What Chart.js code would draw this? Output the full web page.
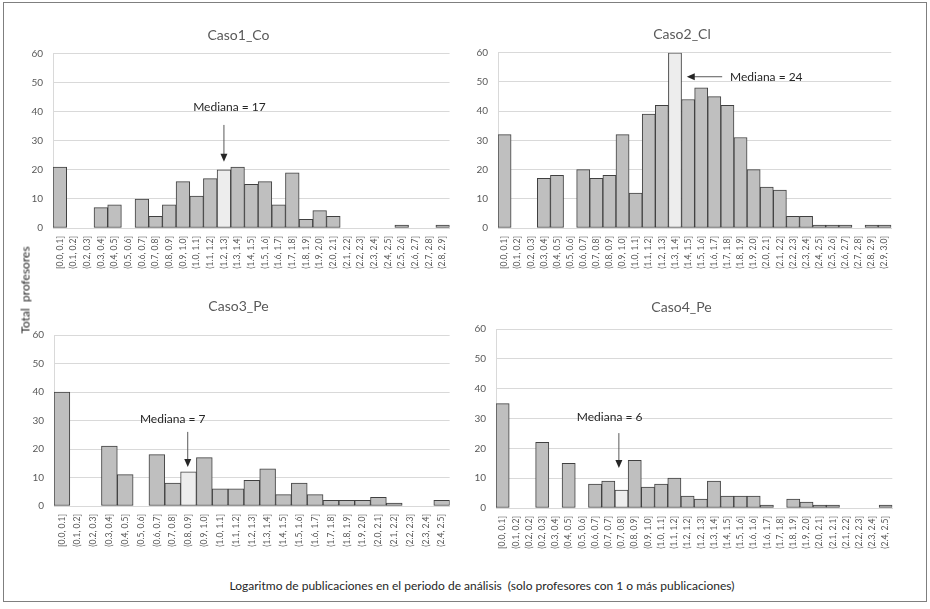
<!DOCTYPE html>
<html lang="es">
<head>
    <meta charset="UTF-8">
    <title>Logaritmo de publicaciones por caso</title>
    <script src="https://cdn.jsdelivr.net/npm/chart.js@4.4.1/dist/chart.umd.min.js"></script>
    <style>
        body {
            margin: 0;
            width: 930px;
            height: 609px;
            background: #fff;
            font-family: Lato, 'Open Sans', sans-serif;
            position: relative;
            overflow: hidden;
        }

        .frame {
            position: absolute;
            left: 3px;
            top: 2px;
            width: 924px;
            height: 600px;
            border: 1px solid #7f7f7f;
            box-sizing: border-box;
        }

        .panel {
            position: absolute;
        }

        .y-title {
            position: absolute;
            left: 25px;
            top: 290px;
            transform: translate(-50%, -50%) rotate(-90deg);
            font-size: 12px;
            color: #262626;
            white-space: pre;
        }

        .x-title {
            position: absolute;
            left: 482px;
            top: 585px;
            transform: translate(-50%, -50%);
            font-size: 12px;
            color: #262626;
            white-space: pre;
        }
    </style>
</head>
<body>
    <div class="frame"></div>
    <div class="panel" style="left:20px; top:20px; width:441px; height:260px;"><canvas id="c1"></canvas></div>
    <div class="panel" style="left:465px; top:20px; width:438px; height:260px;"><canvas id="c2"></canvas></div>
    <div class="panel" style="left:21px; top:290px; width:439px; height:268px;"><canvas id="c3"></canvas></div>
    <div class="panel" style="left:463px; top:290px; width:441px; height:270px;"><canvas id="c4"></canvas></div>
    <div class="y-title">Total  profesores</div>
    <div class="x-title">Logaritmo de publicaciones en el periodo de análisis  (solo profesores con 1 o más publicaciones)</div>

    <script>
        // datos
        const labelsCo = ['[0.0, 0.1]', '(0.1, 0.2]', '(0.2, 0.3]', '(0.3, 0.4]', '(0.4, 0.5]', '(0.5, 0.6]',
            '(0.6, 0.7]', '(0.7, 0.8]', '(0.8, 0.9]', '(0.9, 1.0]', '(1.0, 1.1]', '(1.1, 1.2]', '(1.2, 1.3]',
            '(1.3, 1.4]', '(1.4, 1.5]', '(1.5, 1.6]', '(1.6, 1.7]', '(1.7, 1.8]', '(1.8, 1.9]', '(1.9, 2.0]',
            '(2.0, 2.1]', '(2.1, 2.2]', '(2.2, 2.3]', '(2.3, 2.4]', '(2.4, 2.5]', '(2.5, 2.6]', '(2.6, 2.7]',
            '(2.7, 2.8]', '(2.8, 2.9]'];
        const valuesCo = [21, 0, 0, 7, 8, 0, 10, 4, 8, 16, 11, 17, 20, 21, 15, 16, 8, 19, 3, 6, 4, 0, 0, 0, 0, 1, 0, 0, 1];

        const labelsCl = ['[0.0, 0.1]', '(0.1, 0.2]', '(0.2, 0.3]', '(0.3, 0.4]', '(0.4, 0.5]', '(0.5, 0.6]',
            '(0.6, 0.7]', '(0.7, 0.8]', '(0.8, 0.9]', '(0.9, 1.0]', '(1.0, 1.1]', '(1.1, 1.2]', '(1.2, 1.3]',
            '(1.3, 1.4]', '(1.4, 1.5]', '(1.5, 1.6]', '(1.6, 1.7]', '(1.7, 1.8]', '(1.8, 1.9]', '(1.9, 2.0]',
            '(2.0, 2.1]', '(2.1, 2.2]', '(2.2, 2.3]', '(2.3, 2.4]', '(2.4, 2.5]', '(2.5, 2.6]', '(2.6, 2.7]',
            '(2.7, 2.8]', '(2.8, 2.9]', '(2.9, 3.0]'];
        const valuesCl = [32, 0, 0, 17, 18, 0, 20, 17, 18, 32, 12, 39, 42, 60, 44, 48, 45, 42, 31, 20, 14, 13, 4, 4, 1, 1, 1, 0, 1, 1];

        const labelsPe3 = ['[0.0, 0.1]', '(0.1, 0.2]', '(0.2, 0.3]', '(0.3, 0.4]', '(0.4, 0.5]', '(0.5, 0.6]',
            '(0.6, 0.7]', '(0.7, 0.8]', '(0.8, 0.9]', '(0.9, 1.0]', '(1.0, 1.1]', '(1.1, 1.2]', '(1.2, 1.3]',
            '(1.3, 1.4]', '(1.4, 1.5]', '(1.5, 1.6]', '(1.6, 1.7]', '(1.7, 1.8]', '(1.8, 1.9]', '(1.9, 2.0]',
            '(2.0, 2.1]', '(2.1, 2.2]', '(2.2, 2.3]', '(2.3, 2.4]', '(2.4, 2.5]'];
        const valuesPe3 = [40, 0, 0, 21, 11, 0, 18, 8, 12, 17, 6, 6, 9, 13, 4, 8, 4, 2, 2, 2, 3, 1, 0, 0, 2];

        const labelsPe4 = ['[0.0, 0.1]', '(0.1, 0.2]', '(0.2, 0.2]', '(0.2, 0.3]', '(0.3, 0.4]', '(0.4, 0.5]',
            '(0.5, 0.6]', '(0.6, 0.7]', '(0.7, 0.7]', '(0.7, 0.8]', '(0.8, 0.9]', '(0.9, 1.0]', '(1.0, 1.1]',
            '(1.1, 1.2]', '(1.2, 1.2]', '(1.2, 1.3]', '(1.3, 1.4]', '(1.4, 1.5]', '(1.5, 1.6]', '(1.6, 1.6]',
            '(1.6, 1.7]', '(1.7, 1.8]', '(1.8, 1.9]', '(1.9, 2.0]', '(2.0, 2.1]', '(2.1, 2.1]', '(2.1, 2.2]',
            '(2.2, 2.3]', '(2.3, 2.4]', '(2.4, 2.5]'];
        const valuesPe4 = [35, 0, 0, 22, 0, 15, 0, 8, 9, 6, 16, 7, 8, 10, 4, 3, 9, 4, 4, 4, 1, 0, 3, 2, 1, 1, 0, 0, 0, 1];

        const yTicks = [0, 10, 20, 30, 40, 50, 60];

        // flecha y texto de la mediana, en coordenadas de datos
        const medianaPlugin = {
            id: 'mediana',
            afterDatasetsDraw(chart, args, opts) {
                if (!opts.text) return;
                const xs = chart.scales.x;
                const ys = chart.scales.y;
                const ctx = chart.ctx;
                ctx.save();
                ctx.font = '12px Lato, sans-serif';
                ctx.fillStyle = '#262626';
                ctx.textAlign = opts.align;
                ctx.textBaseline = 'middle';
                ctx.fillText(opts.text, xs.getPixelForValue(opts.tx), ys.getPixelForValue(opts.ty));

                const x0 = xs.getPixelForValue(opts.x0), y0 = ys.getPixelForValue(opts.y0);
                const x1 = xs.getPixelForValue(opts.x1), y1 = ys.getPixelForValue(opts.y1);
                const ang = Math.atan2(y1 - y0, x1 - x0);
                ctx.strokeStyle = '#595959';
                ctx.lineWidth = 1;
                ctx.beginPath();
                ctx.moveTo(x0, y0);
                ctx.lineTo(x1 - 6 * Math.cos(ang), y1 - 6 * Math.sin(ang));
                ctx.stroke();
                ctx.fillStyle = '#262626';
                ctx.beginPath();
                ctx.moveTo(x1, y1);
                ctx.lineTo(x1 - 8 * Math.cos(ang) + 3.5 * Math.sin(ang), y1 - 8 * Math.sin(ang) - 3.5 * Math.cos(ang));
                ctx.lineTo(x1 - 8 * Math.cos(ang) - 3.5 * Math.sin(ang), y1 - 8 * Math.sin(ang) + 3.5 * Math.cos(ang));
                ctx.closePath();
                ctx.fill();
                ctx.restore();
            }
        };

        function makeChart(id, title, labels, values, medianIdx, titlePad, mediana) {
            return new Chart(document.getElementById(id), {
                type: 'bar',
                data: {
                    labels: labels,
                    datasets: [{
                        data: values,
                        backgroundColor: values.map((v, i) => i === medianIdx ? '#ededed' : '#bfbfbf'),
                        borderColor: '#404040',
                        borderWidth: 1,
                        borderSkipped: false,
                        barPercentage: 1,
                        categoryPercentage: 1
                    }]
                },
                options: {
                    responsive: true,
                    maintainAspectRatio: false,
                    animation: false,
                    layout: { padding: { right: 4 } },
                    plugins: {
                        legend: { display: false },
                        tooltip: { enabled: false },
                        title: {
                            display: true,
                            text: title,
                            color: '#595959',
                            font: { family: 'Lato, sans-serif', size: 14, weight: 'normal', lineHeight: 1.2 },
                            padding: titlePad
                        },
                        mediana: mediana
                    },
                    scales: {
                        x: {
                            grid: { display: false, drawTicks: false },
                            border: { color: '#d9d9d9' },
                            ticks: {
                                autoSkip: false,
                                maxRotation: 90,
                                minRotation: 90,
                                padding: 8,
                                color: '#595959',
                                font: { family: 'Lato, sans-serif', size: 8.5 }
                            },
                            afterFit: (axis) => { axis.height = 52; }
                        },
                        y: {
                            min: 0,
                            max: 60,
                            afterBuildTicks: (axis) => { axis.ticks = yTicks.map(v => ({ value: v })); },
                            grid: { color: '#d9d9d9', drawTicks: false },
                            border: { color: '#d9d9d9' },
                            ticks: {
                                padding: 10,
                                color: '#595959',
                                font: { family: 'Lato, sans-serif', size: 10 }
                            },
                            afterFit: (axis) => { axis.width = 33; }
                        }
                    }
                },
                plugins: [medianaPlugin]
            });
        }

        makeChart('c1', 'Caso1_Co', labelsCo, valuesCo, 12, { top: 7, bottom: 10 },
            { text: 'Mediana = 17', align: 'center', tx: 12.4, ty: 41.7, x0: 12, y0: 35.5, x1: 12, y1: 22.8 });
        makeChart('c2', 'Caso2_Cl', labelsCl, valuesCl, 13, { top: 6, bottom: 10 },
            { text: 'Mediana = 24', align: 'left', tx: 17.2, ty: 51.8, x0: 16.6, y0: 51.8, x1: 13.9, y1: 51.8 });
        makeChart('c3', 'Caso3_Pe', labelsPe3, valuesPe3, 8, { top: 7.6, bottom: 20.6 },
            { text: 'Mediana = 7', align: 'center', tx: 7.0, ty: 30.5, x0: 7.95, y0: 26, x1: 7.95, y1: 13.7 });
        makeChart('c4', 'Caso4_Pe', labelsPe4, valuesPe4, 9, { top: 8.6, bottom: 13.6 },
            { text: 'Mediana = 6', align: 'center', tx: 8.1, ty: 30.5, x0: 8.8, y0: 25.1, x1: 8.8, y1: 13.4 });
    </script>
</body>
</html>
